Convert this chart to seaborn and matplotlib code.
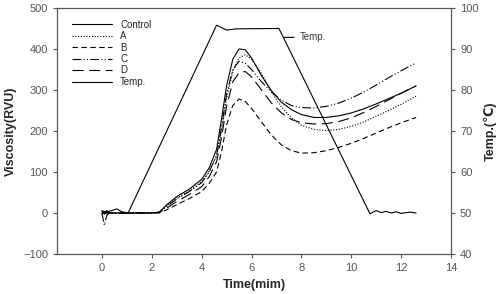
import pandas as pd
import seaborn as sns
import matplotlib.pyplot as plt

sns.set_style("ticks")
plt.rcParams['font.family'] = ['Liberation Sans', 'DejaVu Sans']

# Datos
time = [0, 0.1, 0.2, 0.3, 0.6, 1.0, 1.5, 2.0, 2.3, 2.6, 3.0, 3.5, 4.0, 4.3, 4.6, 4.8, 5.0,
        5.25, 5.5, 5.75, 6.0, 6.4, 6.8, 7.2, 7.6, 8.0, 8.5, 9.0, 9.5, 10.0, 10.5, 11.0,
        11.5, 12.0, 12.6]
control = [5, -3, 6, 0, 0, 0, 0, 0, 2, 20, 40, 58, 82, 110, 155, 230, 310, 375, 400, 398,
           378, 335, 298, 270, 252, 240, 233, 233, 237, 244, 254, 266, 279, 292, 310]
a = [0, -2, 2, 0, 0, 0, 0, 0, 2, 18, 36, 54, 76, 102, 140, 200, 280, 345, 378, 386, 375,
     340, 295, 258, 232, 214, 204, 201, 204, 211, 222, 236, 250, 265, 285]
b = [0, 0, 0, 0, 0, 0, 0, 0, 0, 8, 20, 35, 52, 72, 100, 150, 215, 262, 278, 272, 255, 222,
     190, 166, 152, 146, 147, 152, 160, 170, 182, 195, 208, 220, 233]
c = [0, -30, -5, 0, 0, 0, 0, 0, 2, 16, 34, 52, 74, 100, 140, 210, 290, 350, 370, 365, 350,
     320, 295, 275, 262, 257, 256, 260, 268, 280, 295, 312, 330, 347, 366]
d = [0, 0, 0, 0, 0, 0, 0, 0, 1, 12, 28, 45, 64, 88, 125, 185, 260, 320, 342, 345, 332, 300,
     268, 244, 228, 220, 217, 218, 223, 232, 245, 260, 276, 292, 310]

temp_time = [0, 0.2, 0.4, 0.6, 0.8, 1.05, 4.6, 4.8, 5.0, 5.4, 7.1, 10.75, 10.9, 11.0, 11.2,
             11.4, 11.6, 11.8, 12.0, 12.2, 12.4, 12.6]
temp = [50.5, 50.3, 50.6, 51.0, 50.3, 50.0, 95.8, 95.2, 94.6, 94.9, 95.0, 49.8, 50.3, 50.6,
        50.1, 50.4, 50.0, 50.3, 49.9, 50.1, 50.2, 50.0]

series = {"Control": (control, (None, None)),
          "A": (a, (1, 1.5)),
          "B": (b, (5, 3)),
          "C": (c, (8, 2, 1, 2, 1, 2)),
          "D": (d, (10, 5))}

fig = plt.figure(figsize=(5.02, 2.94), dpi=100)
ax = fig.add_axes([0.1135, 0.136, 0.785, 0.837])

for name, (vals, dash) in series.items():
    df = pd.DataFrame({"t": time, "v": vals})
    sns.lineplot(data=df, x="t", y="v", ax=ax, color="black", lw=0.8, label=name)
    if dash[0] is not None:
        ax.lines[-1].set_dashes(dash)

ax2 = ax.twinx()
tdf = pd.DataFrame({"t": temp_time, "temp": temp})
sns.lineplot(data=tdf, x="t", y="temp", ax=ax2, color="black", lw=0.8, legend=False)
# línea de temperatura también en la leyenda
ax.plot([], [], color="black", lw=0.8, label="Temp.")

ax.set_xlim(-1.8, 14)
ax.set_ylim(-100, 500)
ax.set_xticks(range(0, 15, 2))
ax.set_yticks(range(-100, 501, 100))
ax2.set_ylim(40, 100)
ax2.set_yticks(range(40, 101, 10))

ax.set_xlabel("Time(mim)", fontsize=9, fontweight="bold")
ax.set_ylabel("Viscosity(RVU)", fontsize=9, fontweight="bold")
ax2.set_ylabel("Temp.(℃)", fontsize=9, fontweight="bold")

for axis in (ax, ax2):
    axis.tick_params(labelsize=8, labelcolor="#555555", length=3, width=0.8, colors="#555555")
    axis.tick_params(labelcolor="#555555")
    for s in axis.spines.values():
        s.set_linewidth(0.8)
        s.set_color("#555555")

ax2.annotate("Temp.", xy=(7.2, 92.8), xytext=(7.95, 92.9), fontsize=7, color="#333333",
             va="center", arrowprops=dict(arrowstyle="-", color="black", lw=0.8))

leg = ax.legend(loc="upper left", frameon=False, fontsize=7, handlelength=4.2,
                labelspacing=0.15, borderaxespad=0.3, bbox_to_anchor=(0.02, 0.98))

fig.savefig("out.png", dpi=100)
